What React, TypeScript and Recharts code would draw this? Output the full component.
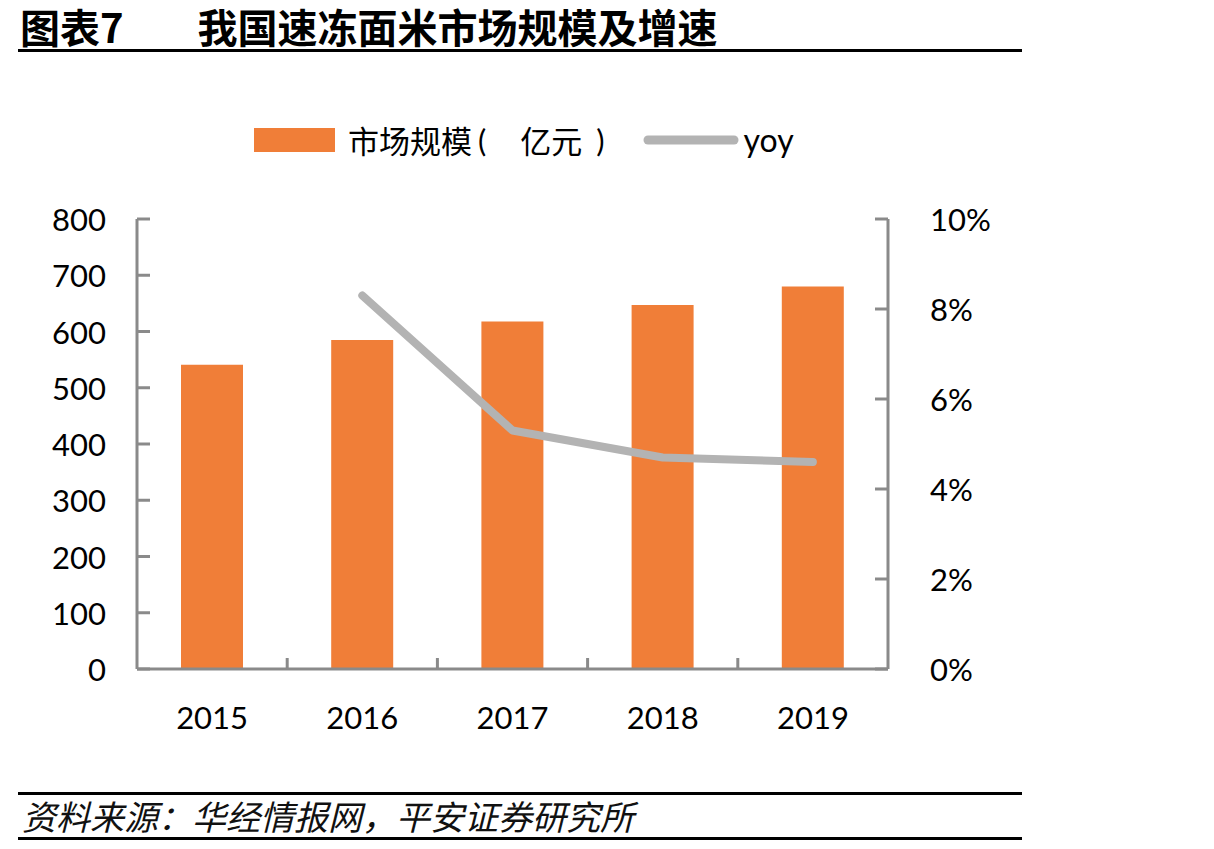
import React from 'react'
import {
  ComposedChart,
  Bar,
  Line,
  XAxis,
  YAxis,
  Legend,
} from 'recharts'

const years = ['2015', '2016', '2017', '2018', '2019']
const marketSize = [541, 585, 618, 647, 680] // 亿元
const yoyPct = [null, 8.3, 5.3, 4.7, 4.6] // %

const leftTicks = [0, 100, 200, 300, 400, 500, 600, 700, 800]
const rightTicks = [0, 2, 4, 6, 8, 10]

const BAR_COLOR = '#F07E38'
const LINE_COLOR = '#B3B3B3'
const AXIS_COLOR = '#8A8A8A'
const FONT = "Lato, 'Noto Sans CJK SC', sans-serif"
const CJK = "'Noto Sans CJK SC', sans-serif"

const data = years.map((year, i) => ({
  year,
  size: marketSize[i],
  yoy: yoyPct[i],
}))

const LeftTick = ({ x, y, payload }: any) => (
  <g>
    <line x1={x + 31} x2={x + 44} y1={y} y2={y} stroke={AXIS_COLOR} strokeWidth={3} />
    <text x={x} y={y} textAnchor="end" dominantBaseline="central" fontSize={31} fill="#000" fontFamily={FONT}>
      {payload.value}
    </text>
  </g>
)

const RightTick = ({ x, y, payload }: any) => (
  <g>
    <line x1={x - 42} x2={x - 55} y1={y} y2={y} stroke={AXIS_COLOR} strokeWidth={3} />
    <text x={x} y={y} textAnchor="start" dominantBaseline="central" fontSize={31} fill="#000" fontFamily={FONT}>
      {`${payload.value}%`}
    </text>
  </g>
)

// category labels, plus the small divider ticks between categories
const YearTick = ({ x, y, payload, index, width, visibleTicksCount }: any) => {
  const count = visibleTicksCount || years.length
  const band = (width || 752) / count
  return (
    <g>
      {index < count - 1 && (
        <line x1={x + band / 2} x2={x + band / 2} y1={y} y2={y - 11} stroke={AXIS_COLOR} strokeWidth={3} />
      )}
      <text x={x} y={y + 48} textAnchor="middle" dominantBaseline="central" fontSize={31} fill="#000" fontFamily={FONT}>
        {payload.value}
      </text>
    </g>
  )
}

// the bracket pair is spaced out like the original legend label
const LegendContent = () => (
  <div style={{ display: 'flex', alignItems: 'center', fontSize: 31, color: '#000', whiteSpace: 'nowrap' }}>
    <span style={{ width: 81, height: 24, background: BAR_COLOR, display: 'inline-block' }} />
    <span style={{ marginLeft: 13, fontFamily: CJK }}>市场规模</span>
    <span style={{ marginLeft: 6, fontFamily: FONT }}>(</span>
    <span style={{ marginLeft: 34, fontFamily: CJK }}>亿元</span>
    <span style={{ marginLeft: 14, fontFamily: FONT }}>)</span>
    <svg width={96} height={12} style={{ marginLeft: 38 }}>
      <line x1={5} x2={91} y1={6} y2={6} stroke={LINE_COLOR} strokeWidth={9} strokeLinecap="round" />
    </svg>
    <span style={{ marginLeft: 5, fontFamily: FONT, fontSize: 32 }}>yoy</span>
  </div>
)

const ruleStyle = (top: number): React.CSSProperties => ({
  position: 'absolute',
  left: 18,
  top,
  width: 1004,
  height: 3,
  background: '#000',
})

export default function App() {
  return (
    <div style={{ position: 'absolute', left: 0, top: 0, width: 1214, height: 849, background: '#fff' }}>
      <div
        style={{
          position: 'absolute',
          left: 20,
          top: 4,
          fontFamily: CJK,
          fontWeight: 700,
          fontSize: 40,
          lineHeight: '44px',
          color: '#000',
          whiteSpace: 'nowrap',
        }}
      >
        <span>图表7</span>
        <span style={{ marginLeft: 74 }}>我国速冻面米市场规模及增速</span>
      </div>
      <div style={ruleStyle(49)} />

      <ComposedChart
        width={1214}
        height={849}
        data={data}
        margin={{ top: 219, left: 37, right: 226, bottom: 120 }}
      >
        <XAxis
          dataKey="year"
          height={60}
          axisLine={{ stroke: AXIS_COLOR, strokeWidth: 3 }}
          tickLine={false}
          tickSize={0}
          tickMargin={0}
          tick={<YearTick />}
          interval={0}
        />
        <YAxis
          yAxisId="left"
          width={100}
          domain={[0, 800]}
          ticks={leftTicks}
          axisLine={{ stroke: AXIS_COLOR, strokeWidth: 3 }}
          tickLine={false}
          tickSize={0}
          tickMargin={31}
          tick={<LeftTick />}
          interval={0}
        />
        <YAxis
          yAxisId="right"
          orientation="right"
          width={100}
          domain={[0, 10]}
          ticks={rightTicks}
          axisLine={{ stroke: AXIS_COLOR, strokeWidth: 3 }}
          tickLine={false}
          tickSize={0}
          tickMargin={42}
          tick={<RightTick />}
          interval={0}
        />
        <Legend
          layout="vertical"
          align="center"
          verticalAlign="middle"
          wrapperStyle={{ top: 117, left: 254, width: 'auto' }}
          content={<LegendContent />}
        />
        <Bar yAxisId="left" dataKey="size" name="市场规模（亿元）" fill={BAR_COLOR} barSize={62} isAnimationActive={false} />
        <Line
          yAxisId="right"
          dataKey="yoy"
          name="yoy"
          stroke={LINE_COLOR}
          strokeWidth={8}
          strokeLinecap="round"
          strokeLinejoin="round"
          dot={false}
          activeDot={false}
          isAnimationActive={false}
        />
      </ComposedChart>

      <div style={ruleStyle(792)} />
      <div
        style={{
          position: 'absolute',
          left: 22,
          top: 795,
          fontFamily: CJK,
          fontStyle: 'italic',
          fontSize: 34,
          lineHeight: '42px',
          color: '#111',
          whiteSpace: 'nowrap',
        }}
      >
        资料来源：华经情报网，平安证券研究所
      </div>
      <div style={ruleStyle(837)} />
    </div>
  )
}
